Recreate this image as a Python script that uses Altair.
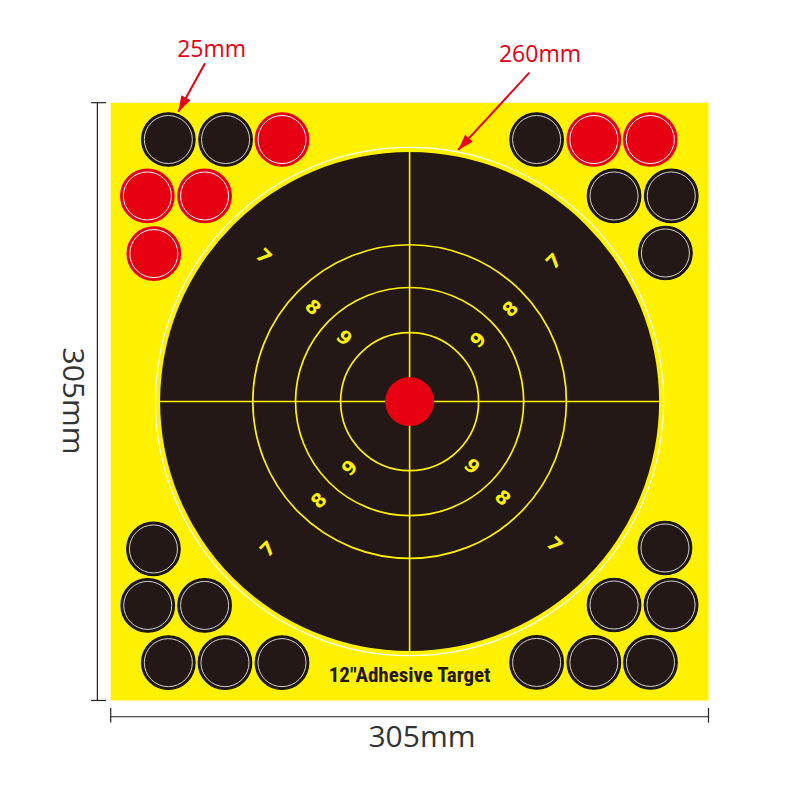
import math
import altair as alt
import pandas as pd

# ---------------- data (millimetres on the 305 mm sheet, origin top-left) -------------
SHEET = 305.0
CENTER = 152.5
R_WHITE = 129.6      # 260 mm outer guide circle
R_BLACK = 127.3      # black target disc
RING_R = [35.2, 58.2, 80.0]
R_BULL = 12.5
R_STICKER = 13.65
R_STICKER_RING = 12.25

sticker_x = [29.4, 58.6, 87.4, 18.7, 47.9, 22.0,
             217.3, 246.5, 275.3, 256.8, 286.0, 283.0,
             21.8, 18.9, 47.9, 29.4, 58.3, 87.4,
             282.8, 256.8, 285.9, 217.3, 246.5, 275.4]
sticker_y = [18.8, 18.8, 18.8, 47.6, 47.6, 77.0,
             18.8, 18.8, 18.8, 47.6, 47.6, 76.7,
             227.7, 256.5, 256.5, 285.7, 285.7, 285.7,
             227.2, 256.3, 256.3, 285.6, 285.6, 285.6]
sticker_kind = ["black", "black", "red", "red", "red", "red",
                "black", "red", "red", "black", "black", "black",
                "black", "black", "black", "black", "black", "black",
                "black", "black", "black", "black", "black", "black"]

score_text = ["7", "7", "7", "7", "8", "8", "8", "8", "9", "9", "9", "9"]
score_x = [77.9, 226.3, 80.4, 226.2, 103.1, 204.1, 106.4, 199.8, 119.0, 187.6, 122.1, 184.2]
score_y = [78.6, 81.1, 227.9, 225.7, 104.6, 105.4, 203.1, 201.8, 120.1, 121.1, 186.5, 185.7]
score_angle = [45, 315, 315, 45, 45, 315, 315, 45, 45, 315, 315, 45]

label_text = "12\"Adhesive Target"
label_x, label_y = 152.5, 292.3

dim_text = "305mm"
dim_v_x, dim_v_y = -19.5, 152.2
dim_h_x, dim_h_y = 158.8, 323.9
dim_line_v = -6.8
dim_line_h = 313.3

note_text = ["25mm", "260mm"]
note_x = [51.5, 219.0]
note_y = [-26.9, -24.3]
arrow_x0 = [48.1, 213.6]
arrow_y0 = [-20.1, -15.3]
arrow_x1 = [34.5, 177.3]
arrow_y1 = [4.6, 24.1]

# ---------------- scales -------------------------------------------------------------
W = H = 784
PX = W / 400.0          # pixels per mm
xs = alt.Scale(domain=[-52.4, 347.6], nice=False, zero=False)
ys = alt.Scale(domain=[-48.3, 351.7], nice=False, zero=False, reverse=True)

YELLOW = "#fff100"
DARK = "#231815"
RED = "#e60012"


def X(f="x"):
    return alt.X(f"{f}:Q", scale=xs, axis=None)


def Y(f="y"):
    return alt.Y(f"{f}:Q", scale=ys, axis=None)


def size_of(r):
    return (2 * r * PX) ** 2


# sheet
sheet_df = pd.DataFrame({"x": [0.0], "x2": [SHEET], "y": [0.0], "y2": [SHEET]})
sheet = alt.Chart(sheet_df).mark_rect(color=YELLOW).encode(
    x=X(), x2="x2:Q", y=Y(), y2="y2:Q")

# target discs / rings
disc_df = pd.DataFrame({
    "x": [CENTER], "y": [CENTER],
    "s_white": [size_of(R_WHITE)], "s_black": [size_of(R_BLACK)], "s_bull": [size_of(R_BULL)],
})
white_ring = alt.Chart(disc_df).mark_point(
    shape="circle", filled=False, stroke="white", strokeWidth=1.2, opacity=1
).encode(x=X(), y=Y(), size=alt.Size("s_white:Q", scale=None))
black_disc = alt.Chart(disc_df).mark_point(
    shape="circle", filled=True, fill=DARK, strokeWidth=0, opacity=1
).encode(x=X(), y=Y(), size=alt.Size("s_black:Q", scale=None))

ring_df = pd.DataFrame({"x": [CENTER] * len(RING_R), "y": [CENTER] * len(RING_R),
                        "s": [size_of(r) for r in RING_R]})
rings = alt.Chart(ring_df).mark_point(
    shape="circle", filled=False, stroke=YELLOW, strokeWidth=1.7, opacity=1
).encode(x=X(), y=Y(), size=alt.Size("s:Q", scale=None))

cross_df = pd.DataFrame({
    "x": [CENTER - R_BLACK, CENTER], "x2": [CENTER + R_BLACK, CENTER],
    "y": [CENTER, CENTER - R_BLACK], "y2": [CENTER, CENTER + R_BLACK],
})
cross = alt.Chart(cross_df).mark_rule(color=YELLOW, strokeWidth=1.6).encode(
    x=X(), x2="x2:Q", y=Y(), y2="y2:Q")

bull = alt.Chart(disc_df).mark_point(
    shape="circle", filled=True, fill=RED, strokeWidth=0, opacity=1
).encode(x=X(), y=Y(), size=alt.Size("s_bull:Q", scale=None))

score_df = pd.DataFrame({"t": score_text, "x": score_x, "y": score_y, "a": score_angle})
scores = alt.Chart(score_df).mark_text(
    font="DejaVu Sans", fontWeight="bold", fontSize=19, color=YELLOW,
    baseline="middle", align="center"
).encode(x=X(), y=Y(), text="t:N", angle=alt.Angle("a:Q", scale=None))

# stickers
st_df = pd.DataFrame({"x": sticker_x, "y": sticker_y, "k": sticker_kind})
st_df["s"] = size_of(R_STICKER)
st_df["s2"] = size_of(R_STICKER_RING)
stickers = alt.Chart(st_df).mark_point(
    shape="circle", filled=True, strokeWidth=1.2, opacity=1
).encode(x=X(), y=Y(), size=alt.Size("s:Q", scale=None),
         fill=alt.Fill("k:N", scale=alt.Scale(domain=["black", "red"], range=[DARK, RED]), legend=None),
         stroke=alt.Stroke("k:N", scale=alt.Scale(domain=["black", "red"], range=["#111111", RED]), legend=None))
sticker_rings = alt.Chart(st_df).mark_point(
    shape="circle", filled=False, strokeWidth=1, opacity=1
).encode(x=X(), y=Y(), size=alt.Size("s2:Q", scale=None),
         stroke=alt.Stroke("k:N", scale=alt.Scale(domain=["black", "red"], range=["#d0d0d0", "#ffffff"]), legend=None))
sticker_layer = alt.layer(stickers, sticker_rings).resolve_scale(stroke="independent")

# label
label_df = pd.DataFrame({"x": [label_x], "y": [label_y], "t": [label_text]})
label = alt.Chart(label_df).mark_text(
    font="'Roboto Condensed', 'DejaVu Sans Condensed', 'Liberation Sans Narrow', Roboto, sans-serif",
    fontWeight="bold", fontSize=21, color=DARK,
    baseline="middle", align="center"
).encode(x=X(), y=Y(), text="t:N")

# dimension lines
dim_df = pd.DataFrame({
    "x": [dim_line_v, dim_line_v - 3.2, dim_line_v - 3.2, 0.0, 0.0, SHEET],
    "x2": [dim_line_v, dim_line_v + 4.4, dim_line_v + 4.4, SHEET, 0.0, SHEET],
    "y": [0.0, 0.0, SHEET, dim_line_h, dim_line_h - 4.5, dim_line_h - 4.5],
    "y2": [SHEET, 0.0, SHEET, dim_line_h, dim_line_h + 3.0, dim_line_h + 3.0],
})
dims = alt.Chart(dim_df).mark_rule(color="#222222", strokeWidth=1.2).encode(
    x=X(), x2="x2:Q", y=Y(), y2="y2:Q")

dimv_df = pd.DataFrame({"x": [dim_v_x], "y": [dim_v_y], "t": [dim_text]})
dim_v = alt.Chart(dimv_df).mark_text(
    font="Open Sans", fontSize=30, color="#333333", angle=90, baseline="middle", align="center"
).encode(x=X(), y=Y(), text="t:N")
dimh_df = pd.DataFrame({"x": [dim_h_x], "y": [dim_h_y], "t": [dim_text]})
dim_h = alt.Chart(dimh_df).mark_text(
    font="Open Sans", fontSize=30, color="#333333", baseline="middle", align="center"
).encode(x=X(), y=Y(), text="t:N")

# red annotations
note_df = pd.DataFrame({"x": note_x, "y": note_y, "t": note_text})
notes = alt.Chart(note_df).mark_text(
    font="Open Sans", fontSize=23, color=RED, baseline="middle", align="center"
).encode(x=X(), y=Y(), text="t:N")

arr_df = pd.DataFrame({"x": arrow_x0, "y": arrow_y0, "x2": arrow_x1, "y2": arrow_y1})
arr_df["a"] = [
    (math.degrees(math.atan2(x1 - x0, -(y1 - y0))) + 360) % 360
    for x0, y0, x1, y1 in zip(arrow_x0, arrow_y0, arrow_x1, arrow_y1)
]
arrow_lines = alt.Chart(arr_df).mark_rule(color=RED, strokeWidth=2).encode(
    x=X(), x2="x2:Q", y=Y(), y2="y2:Q")
arrow_heads = alt.Chart(arr_df).mark_point(
    shape="M0,0L-0.33,1L0.33,1Z", filled=True, color=RED, opacity=1, size=1000, strokeWidth=0
).encode(x=X("x2"), y=Y("y2"), angle=alt.Angle("a:Q", scale=None))

chart = alt.layer(
    sheet, white_ring, black_disc, rings, cross, bull, scores,
    sticker_layer, label, dims, dim_v, dim_h,
    arrow_lines, arrow_heads, notes,
).resolve_scale(stroke="independent").properties(
    width=W, height=H, padding=0, autosize=alt.AutoSizeParams(type="none"),
    background="white",
).configure_view(strokeWidth=0)

chart.save("out.html", embed_options={"renderer": "svg", "actions": False})
